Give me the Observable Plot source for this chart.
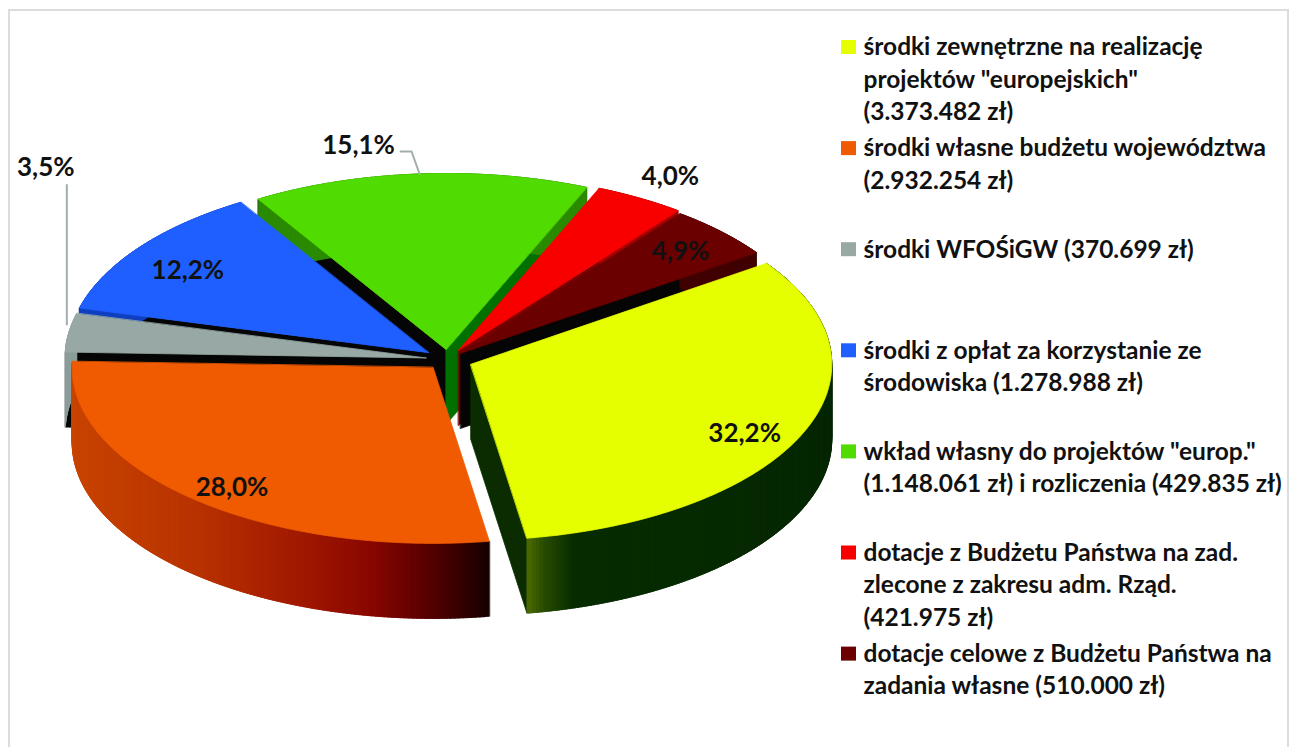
<!DOCTYPE html>
<html><head><meta charset="utf-8">
<script src="https://cdn.jsdelivr.net/npm/d3@7"></script>
<script src="https://cdn.jsdelivr.net/npm/@observablehq/plot@0.6"></script>
<style>
body{margin:0;background:#fff}
#wrap{position:relative;width:1289px;height:747px;overflow:hidden}
#wrap svg{display:block}
#border{position:absolute;left:8px;top:9px;width:1277px;height:800px;border:2px solid #d9dddd;pointer-events:none}
</style>
</head><body>
<div id="wrap"><div id="chart"></div><div id="border"></div></div>
<script>
// ---- data ----
const categories = [
  "środki zewnętrzne na realizację projektów \"europejskich\"",
  "środki własne budżetu województwa",
  "środki WFOŚiGW",
  "środki z opłat za korzystanie ze środowiska",
  "wkład własny do projektów \"europ.\" i rozliczenia",
  "dotacje z Budżetu Państwa na zad. zlecone z zakresu adm. Rząd.",
  "dotacje celowe z Budżetu Państwa na zadania własne"
];
const amounts = [3373482, 2932254, 370699, 1278988, 1577896, 421975, 510000];
const legendLines = [
  ["środki zewnętrzne na realizację", "projektów \"europejskich\"", "(3.373.482 zł)"],
  ["środki własne budżetu województwa", "(2.932.254 zł)"],
  ["środki WFOŚiGW (370.699 zł)"],
  ["środki z opłat za korzystanie ze", "środowiska (1.278.988 zł)"],
  ["wkład własny do projektów \"europ.\"", "(1.148.061 zł) i rozliczenia (429.835 zł)"],
  ["dotacje z Budżetu Państwa na zad.", "zlecone z zakresu adm. Rząd.", "(421.975 zł)"],
  ["dotacje celowe z Budżetu Państwa na", "zadania własne (510.000 zł)"]
];

// ---- styles / layout ----
const topColors = ["#e6ff00", "#f05a00", "#97a8a5", "#1f5fff", "#50dc00", "#f80000", "#6a0000"];
const wallStartColors = ["#000", "#000", "#050505", "#050505", "#050505", "#600000", "#000"];
const wallEndColors = ["#0a2c00", "#300000", "#050505", "#050505", "#007000", "#7a0000", "#050505"];
const outerRamps = [
  d3.scaleLinear().domain([0, 0.05, 0.15, 1]).range(["#4b6b00", "#2a4d00", "#072c00", "#052700"]),
  d3.scaleLinear().domain([0, 0.3, 0.55, 0.72, 0.87, 1]).range(["#c84400", "#b83200", "#a01800", "#880600", "#500000", "#150000"]),
  () => "#8c9d9a", () => "#1040c0", () => "#2a8a00", () => "#a00000", () => "#400000"
];
const explode = [0.07, 0.06, 0.06, 0.065, 0.057, 0.06, 0.05];
const labelRadius = [0.854, 0.88, 1.508, 0.814, 1.184, 1.15, 0.841];
const labelAngleShift = [4.3, -2.2, 37.4, -1.7, -7.6, 0.5, 0.2];
const drawOrder = [4, 5, 6, 3, 2, 0, 1];

const W = 1289, H = 747;
const CX = 447, CY = 359, RX = 361, RY = 176, DEPTH = 75, START = 55;

// ---- geometry from data ----
const total = d3.sum(amounts);
let acc = START;
const slices = amounts.map((v, i) => {
  const span = v / total * 360;
  const s = {i, a0: acc, a1: acc + span, mid: acc + span / 2, pct: v / total * 100};
  acc += span;
  return s;
});
const rad = d => d * Math.PI / 180;
slices.forEach(s => {
  const e = explode[s.i];
  s.ax = CX + e * RX * Math.sin(rad(s.mid));
  s.ay = CY - e * RY * Math.cos(rad(s.mid));
});
const P = (s, a, dz = 0, r = 1) => [s.ax + r * RX * Math.sin(rad(a)), s.ay - r * RY * Math.cos(rad(a)) + dz];
const visible = n => Math.cos(rad(n - 180)) > 0.001;

const polys = [];
let pid = 0;
function addPoly(pts, color) {
  const id = pid++;
  pts.forEach(([x, y]) => polys.push({id, x, y, color}));
}
for (const i of drawOrder) {
  const s = slices[i];
  if (visible(s.a0 - 90)) addPoly([[s.ax, s.ay], P(s, s.a0), P(s, s.a0, DEPTH), [s.ax, s.ay + DEPTH]], wallStartColors[i]);
  if (visible(s.a1 + 90)) addPoly([[s.ax, s.ay], P(s, s.a1), P(s, s.a1, DEPTH), [s.ax, s.ay + DEPTH]], wallEndColors[i]);
  // outer wall, gradient by x over the visible front range
  const lo = Math.max(s.a0, 90), hi = Math.min(s.a1, 270);
  let xa = 0, xb = 1;
  if (hi > lo) { xa = Math.min(P(s, lo)[0], P(s, hi)[0]); xb = Math.max(P(s, lo)[0], P(s, hi)[0]); }
  const n = Math.max(2, Math.ceil((s.a1 - s.a0) * 1.5));
  const step = (s.a1 - s.a0) / n;
  for (let k = 0; k < n; k++) {
    const a = s.a0 + step * k;
    const b = k === n - 1 ? s.a1 : a + step * 1.7;
    const xm = P(s, a + step / 2)[0];
    const t = Math.max(0, Math.min(1, (xm - xa) / (xb - xa)));
    addPoly([P(s, a), P(s, b), P(s, b, DEPTH), P(s, a, DEPTH)], outerRamps[i](t));
  }
  const face = [[s.ax, s.ay]];
  for (let k = 0; k <= n; k++) face.push(P(s, s.a0 + step * k));
  addPoly(face, topColors[i]);
}

const fmtPct = v => d3.format(".1f")(v).replace(".", ",") + "%";
const pctLabels = slices.map(s => {
  const [x, y] = P(s, s.mid + labelAngleShift[s.i], 0, labelRadius[s.i]);
  return {x, y, text: fmtPct(s.pct)};
});

// leader lines for the two labels moved outside
const leaders = [];
{
  const g = slices[4], L = pctLabels[4], [ex, ey] = P(g, g.mid);
  [[L.x + 42, L.y + 6], [L.x + 53, L.y + 6], [ex, ey]].forEach(([x, y]) => leaders.push({id: 0, x, y}));
  const s = slices[2], L2 = pctLabels[2], [gx, gy] = P(s, s.mid);
  [[gx - 2, L2.y + 17], [gx - 2, gy - 8]].forEach(([x, y]) => leaders.push({id: 1, x, y}));
}

// legend
const LEG_X = 841, LEG_TOP = 47, LEG_STEP = 101.1, LINE_H = 32.5;
const legendSquares = legendLines.map((lines, i) => ({i, y: LEG_TOP + i * LEG_STEP, color: topColors[i]}));
const legendText = legendLines.flatMap((lines, i) => lines.map((t, j) => ({x: LEG_X + 22, y: LEG_TOP + i * LEG_STEP + j * LINE_H, text: t})));

const chart = Plot.plot({
  width: W, height: H,
  margin: 0,
  x: {type: "linear", domain: [0, W], range: [0, W], axis: null},
  y: {type: "linear", domain: [0, H], range: [0, H], axis: null},
  color: {type: "identity"},
  style: {fontFamily: "Lato, 'Open Sans', sans-serif", background: "#fff"},
  marks: [
    Plot.line(polys, {x: "x", y: "y", z: "id", fill: "color", stroke: "color", strokeWidth: 0.8, curve: "linear-closed", strokeLinejoin: "round"}),
    Plot.line(leaders, {x: "x", y: "y", z: "id", stroke: "#a4adad", strokeWidth: 2, curve: "linear"}),
    Plot.text(pctLabels, {x: "x", y: "y", text: "text", fontSize: 26, fontWeight: "bold", fill: "#111"}),
    Plot.rect(legendSquares, {x1: () => LEG_X, x2: () => LEG_X + 15, y1: d => d.y - 7, y2: d => d.y + 7, fill: "color"}),
    Plot.text(legendText, {x: "x", y: "y", text: "text", textAnchor: "start", fontSize: 24.5, fontWeight: "bold", fill: "#111"})
  ]
});
document.getElementById("chart").append(chart);
</script>
</body></html>
